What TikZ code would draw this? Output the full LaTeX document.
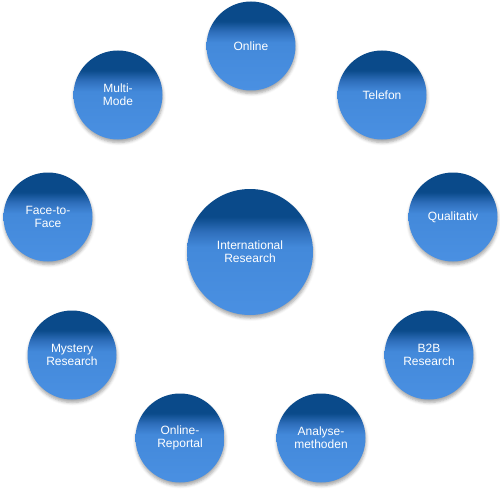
\documentclass[tikz,border=0pt]{standalone}
\usepackage{fontspec}
\setmainfont{Liberation Sans}
\usetikzlibrary{shadows.blur}
\definecolor{ctop}{HTML}{0A4A8A}
\definecolor{cmid}{HTML}{2F6FBC}
\definecolor{cbot}{HTML}{4A90E2}
\definecolor{clow}{HTML}{4389DA}
\pgfdeclareverticalshading{bubshade}{100bp}{color(0bp)=(cbot); color(25bp)=(cbot); color(52bp)=(clow); color(58bp)=(cmid); color(64bp)=(ctop); color(100bp)=(ctop)}
\tikzset{
  bub/.style={circle, minimum size=89pt, inner sep=0pt, text=white, align=center,
    font=\fontsize{12}{13}\selectfont, shading=bubshade,
    blur shadow={shadow xshift=0.5pt, shadow yshift=-3pt, shadow blur radius=3pt, shadow opacity=35}},
  bigbub/.style={bub, minimum size=126pt}
}
\begin{document}
\begin{tikzpicture}[x=1pt,y=-1pt]
\useasboundingbox (0,0) rectangle (500,500);
\node[bigbub] (c) at (250,252) {International\\Research};
\node[bub] (n1) at (251,46) {Online};
\node[bub] (n2) at (382,95) {Telefon};
\node[bub] (n3) at (453,217) {Qualitativ};
\node[bub] (n4) at (429,355) {B2B\\Research};
\node[bub] (n5) at (321,438) {Analyse-\\methoden};
\node[bub] (n6) at (180,438) {Online-\\Reportal};
\node[bub] (n7) at (72,355) {Mystery\\Research};
\node[bub] (n8) at (48,217) {Face-to-\\Face};
\node[bub] (n9) at (118,95) {Multi-\\Mode};
\end{tikzpicture}
\end{document}
